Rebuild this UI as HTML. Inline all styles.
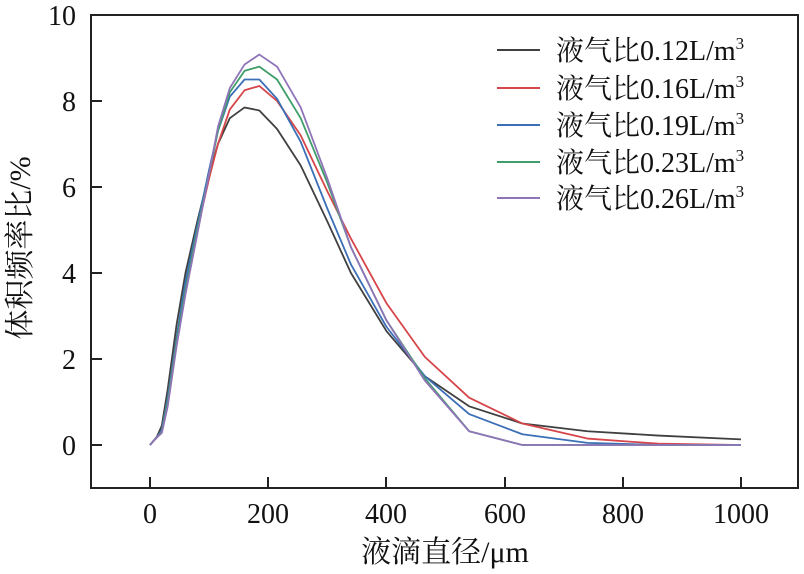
<!DOCTYPE html>
<html><head><meta charset="utf-8"><style>
body{margin:0;background:#fff}
svg{display:block;font-family:"Liberation Serif","Noto Serif CJK SC",serif}
</style></head><body>
<svg width="804" height="574" viewBox="0 0 804 574">
<g transform="translate(150,445) scale(0.591,-43)" fill="none" stroke-width="1.8" stroke-linejoin="round">
<polyline vector-effect="non-scaling-stroke" stroke="#404040" points="0,0 5,0.08 12,0.2 20,0.45 30,1.3 45,2.8 60,4 80,5.2 100,6.3 115,7 135,7.6 160,7.85 185,7.78 215,7.35 255,6.5 300,5.2 340,4 400,2.65 465,1.6 540,0.9 630,0.5 740,0.32 860,0.22 1000,0.13"/>
<polyline vector-effect="non-scaling-stroke" stroke="#d6454a" points="0,0 5,0.08 12,0.18 20,0.35 30,1.1 45,2.5 60,3.7 80,5 100,6.2 115,7 135,7.8 160,8.25 185,8.35 215,8.0 255,7.2 300,5.9 340,4.8 400,3.3 465,2.05 540,1.1 630,0.5 740,0.15 860,0.03 1000,0"/>
<polyline vector-effect="non-scaling-stroke" stroke="#3b6fb6" points="0,0 5,0.08 12,0.18 20,0.35 30,1.1 45,2.5 60,3.8 80,5.1 100,6.4 115,7.3 135,8.1 160,8.5 185,8.5 215,8.05 255,7.05 300,5.5 340,4.2 400,2.75 465,1.6 540,0.72 630,0.25 740,0.05 860,0 1000,0"/>
<polyline vector-effect="non-scaling-stroke" stroke="#3f9e6a" points="0,0 5,0.08 12,0.18 20,0.3 30,1.0 45,2.4 60,3.6 80,5 100,6.3 115,7.3 135,8.2 160,8.7 185,8.8 215,8.5 255,7.6 300,6.1 340,4.6 400,2.9 465,1.55 540,0.32 630,0 740,0 860,0 1000,0"/>
<polyline vector-effect="non-scaling-stroke" stroke="#8f74b8" points="0,0 5,0.08 12,0.18 20,0.28 30,0.9 45,2.3 60,3.5 80,4.9 100,6.3 115,7.4 135,8.3 160,8.85 185,9.08 215,8.8 255,7.85 300,6.2 340,4.6 400,2.9 465,1.5 540,0.32 630,0 740,0 860,0 1000,0"/>
</g>
<rect x="91" y="15" width="707" height="473" fill="none" stroke="#222" stroke-width="2"/>
<g stroke="#222" stroke-width="2">
<line x1="91" y1="445" x2="102" y2="445"/><line x1="91" y1="359" x2="102" y2="359"/><line x1="91" y1="273" x2="102" y2="273"/><line x1="91" y1="187" x2="102" y2="187"/><line x1="91" y1="101" x2="102" y2="101"/><line x1="91" y1="15" x2="102" y2="15"/>
<line x1="150" y1="488" x2="150" y2="477"/><line x1="268" y1="488" x2="268" y2="477"/><line x1="386" y1="488" x2="386" y2="477"/><line x1="505" y1="488" x2="505" y2="477"/><line x1="623" y1="488" x2="623" y2="477"/><line x1="741" y1="488" x2="741" y2="477"/>
</g>
<g font-size="28" fill="#111" text-anchor="end">
<text x="76" y="455">0</text><text x="76" y="369">2</text><text x="76" y="283">4</text><text x="76" y="197">6</text><text x="76" y="111">8</text><text x="76" y="25">10</text>
</g>
<g font-size="28" fill="#111" text-anchor="middle">
<text x="150" y="523">0</text><text x="268" y="523">200</text><text x="386" y="523">400</text><text x="505" y="523">600</text><text x="623" y="523">800</text><text x="741" y="523">1000</text>
<text x="445" y="562" font-size="30">液滴直径/μm</text>
<text transform="translate(30,248) rotate(-90)" font-size="30">体积频率比/%</text>
</g>
<g stroke-width="2">
<line x1="497" y1="50" x2="540" y2="50" stroke="#404040"/>
<line x1="497" y1="88" x2="540" y2="88" stroke="#d6454a"/>
<line x1="497" y1="125" x2="540" y2="125" stroke="#3b6fb6"/>
<line x1="497" y1="162" x2="540" y2="162" stroke="#3f9e6a"/>
<line x1="497" y1="198" x2="540" y2="198" stroke="#8f74b8"/>
</g>
<g font-size="28" fill="#111">
<text x="556" y="60">液气比0.12L/m<tspan font-size="17" dy="-11">3</tspan></text>
<text x="556" y="98">液气比0.16L/m<tspan font-size="17" dy="-11">3</tspan></text>
<text x="556" y="135">液气比0.19L/m<tspan font-size="17" dy="-11">3</tspan></text>
<text x="556" y="172">液气比0.23L/m<tspan font-size="17" dy="-11">3</tspan></text>
<text x="556" y="208">液气比0.26L/m<tspan font-size="17" dy="-11">3</tspan></text>
</g>
</svg>
</body></html>
